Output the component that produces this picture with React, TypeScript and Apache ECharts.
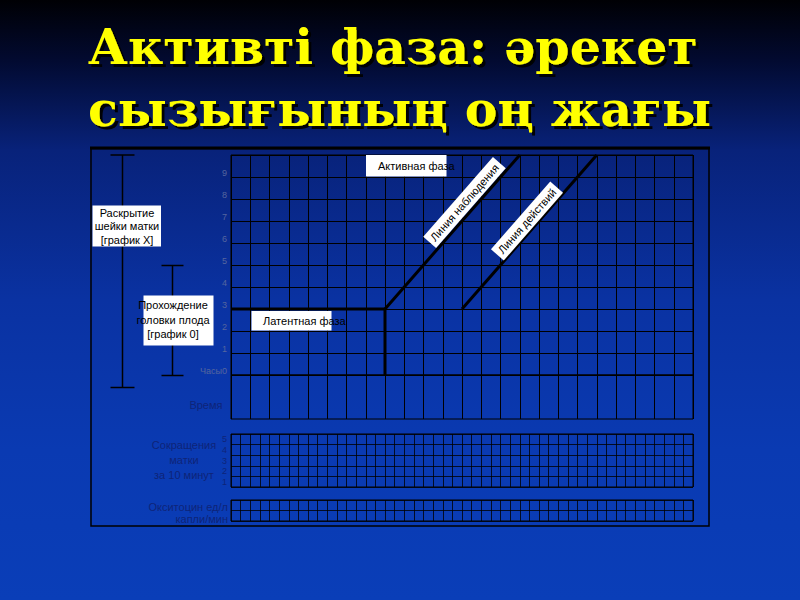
import React, { useEffect, useRef } from 'react';
import * as echarts from 'echarts';

// partograph: hours on x, cervix dilation (cm) on y
const hourTicks = Array.from({ length: 25 }, (_, i) => i);
const dilationLabels = ['0', '1', '2', '3', '4', '5', '6', '7', '8', '9'];
const contractionRows = ['1', '2', '3', '4', '5'];
const oxytocinRows = ['', ''];

const latentPhase = [[0, 3], [8, 3]];
const activeStart = [[8, 3], [8, 0]];
const alertLine = [[8, 3], [15, 10]];
const actionLine = [[12, 3], [19, 10]];

const titleLines = ['Активті фаза: әрекет', 'сызығының оң жағы'];

const SANS = '"Liberation Sans", Arial, sans-serif';
const GRID_LINE = '#000000';
const TICK_TEXT = '#56669e';
const DIM_TEXT = '#0e2478';

const App: React.FC = () => {
    const chartRef = useRef<HTMLDivElement>(null);

    useEffect(() => {
        if (!chartRef.current) return;
        const chart = echarts.init(chartRef.current, null, { renderer: 'svg' });

        const plainX = (gridIndex: number, max: number, width = 1) => ({
            type: 'value',
            gridIndex,
            min: 0,
            max,
            interval: 1,
            axisLabel: { show: false },
            axisTick: { show: false },
            axisLine: { show: false },
            splitLine: { show: true, lineStyle: { color: GRID_LINE, width } },
        });

        const lineSeries = (name: string, data: number[][]) => ({
            name,
            type: 'line',
            xAxisIndex: 0,
            yAxisIndex: 0,
            data,
            symbol: 'none',
            lineStyle: { color: '#000', width: 3 },
            silent: true,
        });

        const labelBox = (x: number, y: number, w: number, h: number) => ({
            type: 'rect',
            z: 100,
            shape: { x, y, width: w, height: h },
            style: { fill: '#ffffff' },
        });

        const bracket = (x: number, y1: number, y2: number, half: number) => [
            { type: 'line', shape: { x1: x, y1, x2: x, y2 }, style: { stroke: '#000', lineWidth: 1.5 } },
            { type: 'line', shape: { x1: x - half, y1, x2: x + half, y2: y1 }, style: { stroke: '#000', lineWidth: 1.5 } },
            { type: 'line', shape: { x1: x - half, y1: y2, x2: x + half, y2 }, style: { stroke: '#000', lineWidth: 1.5 } },
        ];

        const slope = Math.atan2(22, 19.25);
        const titleFont = 'bold 49px "DejaVu Serif", serif';

        const option = {
            animation: false,
            backgroundColor: new echarts.graphic.LinearGradient(0, 0, 0, 1, [
                { offset: 0, color: '#000004' },
                { offset: 0.1, color: '#020a30' },
                { offset: 0.25, color: '#08227a' },
                { offset: 0.5, color: '#0a32a2' },
                { offset: 0.75, color: '#0a3ab2' },
                { offset: 1, color: '#0a3eb8' },
            ]),
            grid: [
                { left: 231, top: 155, width: 462, height: 220, show: true, borderColor: '#000', borderWidth: 1 },
                { left: 231, top: 375, width: 462, height: 44, show: true, borderColor: '#000', borderWidth: 1 },
                { left: 231, top: 434, width: 462, height: 53, show: true, borderColor: '#000', borderWidth: 1 },
                { left: 231, top: 500, width: 462, height: 21, show: true, borderColor: '#000', borderWidth: 1 },
            ],
            xAxis: [
                plainX(0, hourTicks[hourTicks.length - 1]),
                plainX(1, hourTicks[hourTicks.length - 1]),
                plainX(2, 48, 0.8),
                plainX(3, 48, 0.8),
            ],
            yAxis: [
                {
                    type: 'value',
                    gridIndex: 0,
                    min: 0,
                    max: 10,
                    interval: 1,
                    axisLine: { show: false },
                    axisTick: { show: false },
                    axisLabel: {
                        color: TICK_TEXT,
                        fontSize: 9,
                        fontFamily: SANS,
                        margin: 4,
                        verticalAlign: 'bottom',
                        lineHeight: 9,
                        formatter: (v: number) =>
                            v === 0 ? 'Часы' + dilationLabels[0] : dilationLabels[v] ?? '',
                    },
                    splitLine: { show: true, lineStyle: { color: GRID_LINE, width: 1 } },
                },
                {
                    type: 'value',
                    gridIndex: 1,
                    min: 0,
                    max: 1,
                    axisLine: { show: false },
                    axisTick: { show: false },
                    axisLabel: { show: false },
                    splitLine: { show: false },
                },
                {
                    type: 'category',
                    gridIndex: 2,
                    data: contractionRows,
                    axisLine: { show: false },
                    axisTick: { show: false },
                    axisLabel: { color: DIM_TEXT, fontSize: 9, fontFamily: SANS, margin: 4, interval: 0 },
                    splitLine: { show: true, interval: 0, lineStyle: { color: GRID_LINE, width: 0.8 } },
                },
                {
                    type: 'category',
                    gridIndex: 3,
                    data: oxytocinRows,
                    axisLine: { show: false },
                    axisTick: { show: false },
                    axisLabel: { show: false },
                    splitLine: { show: true, interval: 0, lineStyle: { color: GRID_LINE, width: 0.8 } },
                },
            ],
            series: [
                lineSeries('Латентная фаза', latentPhase),
                lineSeries('Начало активной фазы', activeStart),
                lineSeries('Линия наблюдения', alertLine),
                lineSeries('Линия действий', actionLine),
            ],
            graphic: [
                // slide title with a hard drop shadow
                ...titleLines.map((t, i) => ({
                    type: 'text',
                    x: 88,
                    y: 22 + i * 62,
                    style: {
                        text: t,
                        fill: '#ffff00',
                        font: titleFont,
                        verticalAlign: 'top',
                        textShadowColor: 'rgba(0,0,0,0.95)',
                        textShadowBlur: 1,
                        textShadowOffsetX: 3,
                        textShadowOffsetY: 3,
                    },
                })),
                // outer frame
                {
                    type: 'rect',
                    shape: { x: 91, y: 148.5, width: 618, height: 377.5 },
                    style: { fill: 'transparent', stroke: '#000', lineWidth: 1.5 },
                },
                { type: 'line', shape: { x1: 90, y1: 148, x2: 710, y2: 148 }, style: { stroke: '#000', lineWidth: 3 } },
                // brackets
                ...bracket(122.5, 155, 387.5, 12),
                ...bracket(172.5, 265.5, 375.5, 11),
                // left label boxes
                labelBox(92.5, 205.5, 68.5, 41),
                {
                    type: 'text',
                    z: 101,
                    x: 127,
                    y: 226,
                    style: {
                        text: 'Раскрытие\nшейки матки\n[график X]',
                        fill: '#000',
                        font: '11px ' + SANS,
                        align: 'center',
                        verticalAlign: 'middle',
                        lineHeight: 13.5,
                    },
                },
                labelBox(143.5, 295.5, 70, 50),
                {
                    type: 'text',
                    z: 101,
                    x: 173,
                    y: 319.5,
                    style: {
                        text: 'Прохождение\nголовки плода\n[график 0]',
                        fill: '#000',
                        font: '11px ' + SANS,
                        align: 'center',
                        verticalAlign: 'middle',
                        lineHeight: 14.5,
                    },
                },
                // phase labels
                labelBox(251.5, 311, 80, 19.5),
                {
                    type: 'text',
                    z: 101,
                    x: 263,
                    y: 320.5,
                    style: { text: 'Латентная фаза', fill: '#000', font: '11px ' + SANS, verticalAlign: 'middle' },
                },
                labelBox(366, 155, 80.5, 21.5),
                {
                    type: 'text',
                    z: 101,
                    x: 378,
                    y: 166,
                    style: { text: 'Активная фаза', fill: '#000', font: '11px ' + SANS, verticalAlign: 'middle' },
                },
                // rotated line labels
                {
                    type: 'text',
                    z: 101,
                    x: 464.5,
                    y: 202.5,
                    rotation: slope,
                    style: {
                        text: 'Линия наблюдения',
                        fill: '#000',
                        font: '11px ' + SANS,
                        align: 'center',
                        verticalAlign: 'middle',
                        backgroundColor: '#fff',
                        padding: [3, 4],
                    },
                },
                {
                    type: 'text',
                    z: 101,
                    x: 527,
                    y: 221,
                    rotation: slope,
                    style: {
                        text: 'Линия действий',
                        fill: '#000',
                        font: '11px ' + SANS,
                        align: 'center',
                        verticalAlign: 'middle',
                        backgroundColor: '#fff',
                        padding: [3, 4],
                    },
                },
                // lower row captions
                {
                    type: 'text',
                    x: 222.5,
                    y: 405,
                    style: { text: 'Время', fill: DIM_TEXT, font: '11px ' + SANS, align: 'right', verticalAlign: 'middle' },
                },
                {
                    type: 'text',
                    x: 184,
                    y: 460,
                    style: {
                        text: 'Сокращения\nматки\nза 10 минут',
                        fill: DIM_TEXT,
                        font: '11px ' + SANS,
                        align: 'center',
                        verticalAlign: 'middle',
                        lineHeight: 15,
                    },
                },
                {
                    type: 'text',
                    x: 228,
                    y: 512.5,
                    style: {
                        text: 'Окситоцин ед/л\nкапли/мин',
                        fill: DIM_TEXT,
                        font: '11px ' + SANS,
                        align: 'right',
                        verticalAlign: 'middle',
                        lineHeight: 12,
                    },
                },
            ],
        };

        chart.setOption(option);

        return () => {
            chart.dispose();
        };
    }, []);

    return (
        <div
            ref={chartRef}
            style={{ position: 'absolute', left: 0, top: 0, width: '800px', height: '600px' }}
        />
    );
};

export default App;
